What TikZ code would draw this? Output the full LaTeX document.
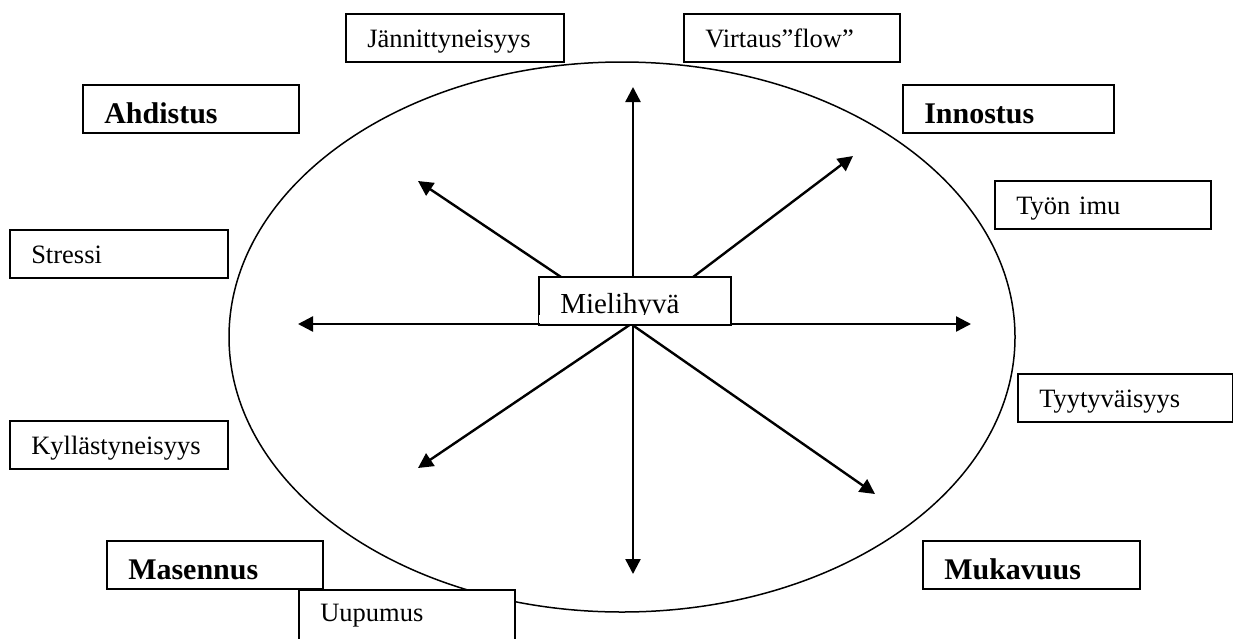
\documentclass[tikz,border=0pt]{standalone}
\usepackage{fontspec}
\setmainfont{Liberation Serif}
\usetikzlibrary{arrows.meta}
\begin{document}
\begin{tikzpicture}[x=1pt,y=-1pt,
  box/.style={draw, line width=1.5pt, fill=white, rectangle, anchor=north west,
    inner xsep=21.5pt, inner ysep=0pt, minimum height=48pt, align=left,
    font=\fontsize{26.5}{30}\selectfont, text height=20pt, text depth=0pt},
  bbox/.style={box, font=\fontsize{30}{34}\bfseries\selectfont, text height=30pt},
  arr/.style={line width=2.4pt, -{Triangle[length=15pt,width=15pt]}},
  ring/.style={line width=1.5pt}]
\useasboundingbox (0,0) rectangle (1233,638);
% ellipse
\draw[ring] (622,337) ellipse [x radius=393pt, y radius=275pt];
% arrows
\coordinate (O) at (631,324);
\coordinate (tU) at (633,87);
\coordinate (tD) at (633,574);
\coordinate (tL) at (298,324);
\coordinate (tR) at (971,324);
\coordinate (tUL) at (418,181);
\coordinate (tUR) at (853,156);
\coordinate (tDL) at (418,468);
\coordinate (tDR) at (875,494);
\draw[arr] (O) -- (tL);
\draw[arr] (O) -- (tR);
\draw[arr] (633,324) -- (tU);
\draw[arr] (633,324) -- (tD);
\draw[arr] (O) -- (tUL);
\draw[arr] (O) -- (tUR);
\draw[arr] (O) -- (tDL);
\draw[arr] (O) -- (tDR);
% boxes
\node[box, text width=175pt] (jan) at (345,13) {Jännittyneisyys};
\node[box, text width=173pt] (vir) at (683,13) {Virtaus”flow”};
\node[bbox, text width=173pt] (ahd) at (82,84) {Ahdistus};
\node[bbox, text width=168pt] (inn) at (902,84) {Innostus};
\node[box, text width=173pt] (tyo) at (994,180) {Työn imu};
\node[box, text width=175pt] (str) at (9,229) {Stressi};
\node[box, text width=149pt, text height=26pt, font=\fontsize{29}{32}\selectfont] (mh) at (538,276) {Mielihyvä};
\fill[white] (539,315) rectangle (729,322.5);
\node[box, text width=172pt] (tyy) at (1017,373) {Tyytyväisyys};
\node[box, text width=175pt] (kyl) at (9,420) {Kyllästyneisyys};
\node[bbox, text width=173pt] (mas) at (106,540) {Masennus};
\node[box, text width=173pt, minimum height=60pt, text depth=16pt] (uup) at (298,589) {Uupumus};
\node[bbox, text width=174pt] (muk) at (922,540) {Mukavuus};
\end{tikzpicture}
\end{document}
